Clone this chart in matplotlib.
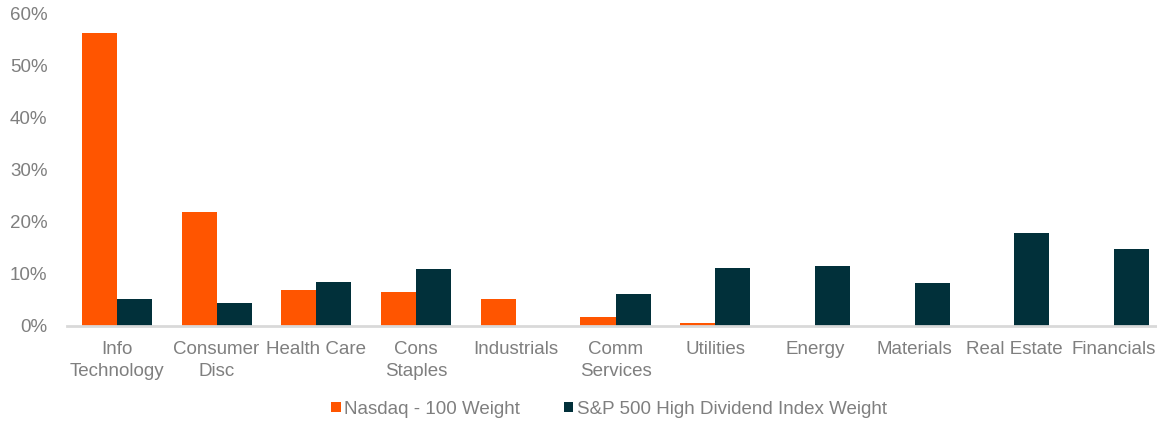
import numpy as np
import matplotlib
matplotlib.use('Agg')
import matplotlib.pyplot as plt
from matplotlib.ticker import FuncFormatter

plt.rcParams['font.family'] = ['Liberation Sans', 'DejaVu Sans']

categories = ['Info\nTechnology', 'Consumer\nDisc', 'Health Care', 'Cons\nStaples', 'Industrials',
              'Comm\nServices', 'Utilities', 'Energy', 'Materials', 'Real Estate', 'Financials']
nasdaq = [56.4, 21.9, 7.0, 6.5, 5.2, 1.7, 0.6, 0, 0, 0, 0]
spdiv = [5.1, 4.4, 8.4, 10.9, 0, 6.2, 11.1, 11.5, 8.3, 17.8, 14.9]
series_names = ['Nasdaq - 100 Weight', 'S&P 500 High Dividend Index Weight']
colors = ['#FF5500', '#01303A']
text_color = '#7F7F7F'

fig = plt.figure(figsize=(11.57, 4.21), dpi=100)
ax = fig.add_axes([67/1157, 95/421, 1097/1157, (326-14)/421])

x = np.arange(len(categories))
w = 0.351
ax.bar(x - w/2, nasdaq, w, color=colors[0], label=series_names[0])
ax.bar(x + w/2, spdiv, w, color=colors[1], label=series_names[1])

ax.set_xlim(-0.5, len(categories) - 0.5)
ax.set_ylim(0, 60)
ax.set_yticks(range(0, 61, 10))
ax.yaxis.set_major_formatter(FuncFormatter(lambda v, p: '%d%%' % v))
ax.set_xticks(x)
ax.set_xticklabels(categories, linespacing=1.4)
ax.tick_params(axis='both', length=0, labelsize=13.5, labelcolor=text_color)
ax.tick_params(axis='x', pad=11)
ax.tick_params(axis='y', pad=14)

for s in ['top', 'right', 'left']:
    ax.spines[s].set_visible(False)
ax.spines['bottom'].set_color('#D9D9D9')
ax.spines['bottom'].set_linewidth(2)

leg = fig.legend(loc='center', bbox_to_anchor=(609/1157, 12/421), ncol=2, frameon=False,
                 fontsize=13.5, handlelength=0.5, handleheight=0.5, handletextpad=0.2,
                 columnspacing=2.3)
for t in leg.get_texts():
    t.set_color(text_color)

fig.savefig('out.png', dpi=100)
